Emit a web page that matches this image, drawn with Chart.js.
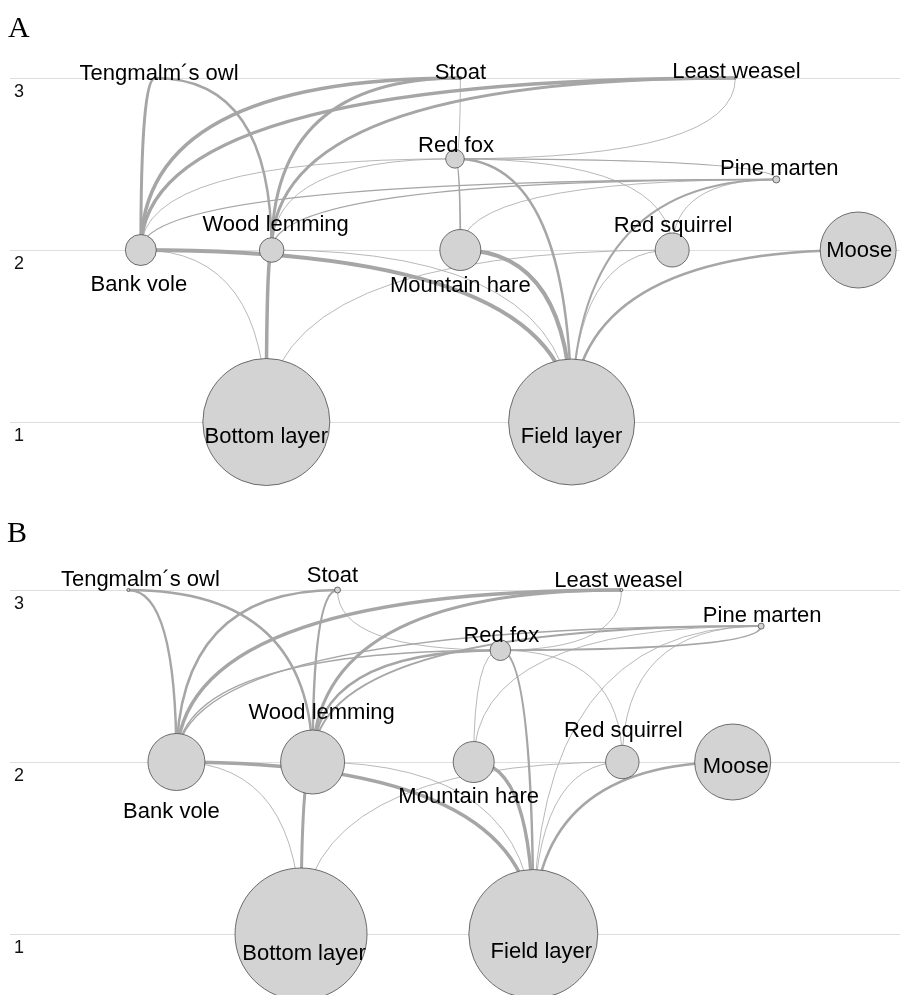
<!DOCTYPE html>
<html>
<head>
<meta charset="utf-8">
<title>Food web – trophic levels</title>
<script src="https://cdn.jsdelivr.net/npm/chart.js@4/dist/chart.umd.min.js"></script>
<style>
  html, body { margin: 0; padding: 0; background: #fff; overflow: hidden; }
  #wrap { position: relative; width: 900px; height: 995px; }
  .panel { position: absolute; left: 0; width: 900px; }
  #panelA { top: 0; height: 500px; }
  #panelB { top: 500px; height: 495px; }
</style>
</head>
<body>
<div id="wrap">
  <div class="panel" id="panelA"><canvas id="webA" width="900" height="500"></canvas></div>
  <div class="panel" id="panelB"><canvas id="webB" width="900" height="495"></canvas></div>
</div>
<script>
// ---- data -------------------------------------------------------------
const species = ['Tengmalm´s owl', 'Stoat', 'Least weasel', 'Red fox', 'Pine marten',
                 'Bank vole', 'Wood lemming', 'Mountain hare', 'Red squirrel', 'Moose',
                 'Bottom layer', 'Field layer'];
const levelTicks = [1, 2, 3];

// Panel A
const trophicLevelA = [3, 3, 3, 2.53, 2.41, 2, 2, 2, 2, 2, 1, 1];
const layoutXA      = [16.3, 50.6, 81.5, 50.0, 86.1, 14.7, 29.4, 50.6, 74.4, 95.3, 28.8, 63.1];
const nodeSizeA     = [1, 1.5, 1, 9.3, 3.5, 15.5, 12.3, 20.5, 17, 38, 63.5, 63];
// [prey, predator, interaction strength]
const linksA = [
  ['Bank vole', 'Tengmalm´s owl', 3],
  ['Wood lemming', 'Tengmalm´s owl', 2.5],
  ['Bank vole', 'Stoat', 3.5],
  ['Bank vole', 'Least weasel', 3.5],
  ['Wood lemming', 'Stoat', 3],
  ['Wood lemming', 'Least weasel', 3],
  ['Bank vole', 'Red fox', 0.8],
  ['Wood lemming', 'Red fox', 0.8],
  ['Bank vole', 'Pine marten', 1.4],
  ['Wood lemming', 'Pine marten', 1.4],
  ['Stoat', 'Red fox', 0.8],
  ['Least weasel', 'Red fox', 0.8],
  ['Mountain hare', 'Red fox', 1.8],
  ['Red squirrel', 'Red fox', 0.8],
  ['Pine marten', 'Red fox', 1.2],
  ['Mountain hare', 'Pine marten', 0.8],
  ['Red squirrel', 'Pine marten', 0.8],
  ['Field layer', 'Pine marten', 2],
  ['Field layer', 'Red fox', 2.5],
  ['Field layer', 'Mountain hare', 4],
  ['Field layer', 'Bank vole', 4],
  ['Field layer', 'Wood lemming', 0.8],
  ['Field layer', 'Red squirrel', 0.8],
  ['Field layer', 'Moose', 2.5],
  ['Bottom layer', 'Bank vole', 0.8],
  ['Bottom layer', 'Wood lemming', 3.5],
  ['Bottom layer', 'Red squirrel', 0.8]
];

// Panel B
const trophicLevelB = [3, 3, 3, 2.65, 2.79, 2, 2, 2, 2, 2, 1, 1];
const layoutXB      = [13.3, 36.8, 68.7, 55.1, 84.4, 18.7, 34.0, 52.1, 68.8, 81.2, 32.7, 58.8];
const nodeSizeB     = [1.5, 3, 1.5, 10.3, 3, 28.5, 32, 20.5, 16.7, 38, 66, 64.5];
const linksB = [
  ['Bank vole', 'Tengmalm´s owl', 2.5],
  ['Wood lemming', 'Tengmalm´s owl', 2.5],
  ['Bank vole', 'Stoat', 2.5],
  ['Wood lemming', 'Stoat', 2.5],
  ['Bank vole', 'Least weasel', 3.5],
  ['Wood lemming', 'Least weasel', 3],
  ['Bank vole', 'Red fox', 1.5],
  ['Wood lemming', 'Red fox', 2.5],
  ['Bank vole', 'Pine marten', 1.5],
  ['Wood lemming', 'Pine marten', 2],
  ['Stoat', 'Red fox', 0.8],
  ['Least weasel', 'Red fox', 0.8],
  ['Mountain hare', 'Red fox', 0.8],
  ['Red squirrel', 'Red fox', 0.8],
  ['Pine marten', 'Red fox', 2],
  ['Mountain hare', 'Pine marten', 0.8],
  ['Red squirrel', 'Pine marten', 0.8],
  ['Field layer', 'Pine marten', 0.8],
  ['Field layer', 'Red fox', 2.5],
  ['Field layer', 'Mountain hare', 3.5],
  ['Field layer', 'Bank vole', 3.5],
  ['Field layer', 'Wood lemming', 0.8],
  ['Field layer', 'Red squirrel', 0.8],
  ['Field layer', 'Moose', 2.5],
  ['Bottom layer', 'Bank vole', 0.8],
  ['Bottom layer', 'Wood lemming', 3],
  ['Bottom layer', 'Red squirrel', 0.8]
];

// ---- label placement (pixel nudges: [dx, baseline dy]) -----------------
const labelNudgeA = {
  'Tengmalm´s owl': [4, 2], 'Stoat': [0, 1], 'Least weasel': [1, 0], 'Red fox': [1, -7],
  'Pine marten': [3, -4], 'Bank vole': [-2, 41], 'Wood lemming': [4, -19],
  'Mountain hare': [0, 42], 'Red squirrel': [1, -18], 'Moose': [1, 7],
  'Bottom layer': [0, 21], 'Field layer': [0, 21]
};
const labelNudgeB = {
  'Tengmalm´s owl': [12, -4], 'Stoat': [-5, -8], 'Least weasel': [-3, -3], 'Red fox': [1, -8],
  'Pine marten': [1, -4], 'Bank vole': [-5, 56], 'Wood lemming': [9, -43],
  'Mountain hare': [-5, 41], 'Red squirrel': [1, -25], 'Moose': [3, 11],
  'Bottom layer': [3, 26], 'Field layer': [8, 24]
};

const FONT = '"Liberation Sans", Arial, Helvetica, sans-serif';

function drawWeb(canvasId, cfg) {
  const webPlugin = {
    id: 'webLinks',
    beforeDatasetsDraw(chart) {
      const pts = chart.getDatasetMeta(0).data;
      const ctx = chart.ctx;
      ctx.save();
      ctx.strokeStyle = '#a6a6a6';
      ctx.lineCap = 'butt';
      cfg.links.forEach(([prey, pred, w]) => {
        const a = pts[species.indexOf(prey)], b = pts[species.indexOf(pred)];
        ctx.lineWidth = w;
        ctx.beginPath();
        ctx.moveTo(a.x, a.y);
        // bend: leave the prey along its column, arrive along the predator's level
        ctx.quadraticCurveTo(a.x, b.y, b.x, b.y);
        ctx.stroke();
      });
      ctx.restore();
    },
    afterDatasetsDraw(chart) {
      const pts = chart.getDatasetMeta(0).data;
      const ctx = chart.ctx;
      ctx.save();
      ctx.fillStyle = '#000';
      ctx.font = '22px ' + FONT;
      ctx.textAlign = 'center';
      ctx.textBaseline = 'alphabetic';
      species.forEach((name, i) => {
        const [dx, dy] = cfg.nudge[name];
        ctx.fillText(name, pts[i].x + dx, pts[i].y + dy);
      });
      ctx.font = '30px "Liberation Serif", "Times New Roman", serif';
      ctx.textAlign = 'left';
      ctx.fillText(cfg.tag, cfg.tagX, cfg.tagY);
      ctx.restore();
    }
  };

  return new Chart(document.getElementById(canvasId), {
    type: 'bubble',
    data: {
      datasets: [{
        label: cfg.tag,
        data: species.map((s, i) => ({ x: cfg.xs[i], y: cfg.levels[i], r: cfg.sizes[i] })),
        backgroundColor: '#d3d3d3',
        borderColor: '#4d4d4d',
        borderWidth: 0.8,
        hoverRadius: 0,
        hoverBorderWidth: 0.8,
        clip: false
      }]
    },
    options: {
      responsive: false,
      animation: false,
      devicePixelRatio: 1,
      events: [],
      layout: { autoPadding: false, padding: { left: 2, right: 0, top: cfg.padTop, bottom: cfg.padBottom } },
      plugins: { legend: { display: false }, tooltip: { enabled: false }, title: { display: false } },
      scales: {
        x: { type: 'linear', min: 0, max: 100, display: false },
        y: {
          type: 'linear',
          min: 0.8,
          max: 3.25,
          afterBuildTicks: scale => { scale.ticks = levelTicks.map(v => ({ value: v })); },
          ticks: {
            mirror: true,
            padding: 4,
            labelOffset: 14,
            color: '#111',
            font: { family: FONT, size: 18 },
            callback: v => String(v)
          },
          grid: { color: '#dedede', lineWidth: 1, drawTicks: false },
          border: { display: false }
        }
      }
    },
    plugins: [webPlugin]
  });
}

drawWeb('webA', {
  tag: 'A', tagX: 8, tagY: 37, padTop: 35, padBottom: 43.6,
  levels: trophicLevelA, xs: layoutXA, sizes: nodeSizeA, links: linksA, nudge: labelNudgeA
});
drawWeb('webB', {
  tag: 'B', tagX: 7, tagY: 42, padTop: 47, padBottom: 26.6,
  levels: trophicLevelB, xs: layoutXB, sizes: nodeSizeB, links: linksB, nudge: labelNudgeB
});
</script>
</body>
</html>
